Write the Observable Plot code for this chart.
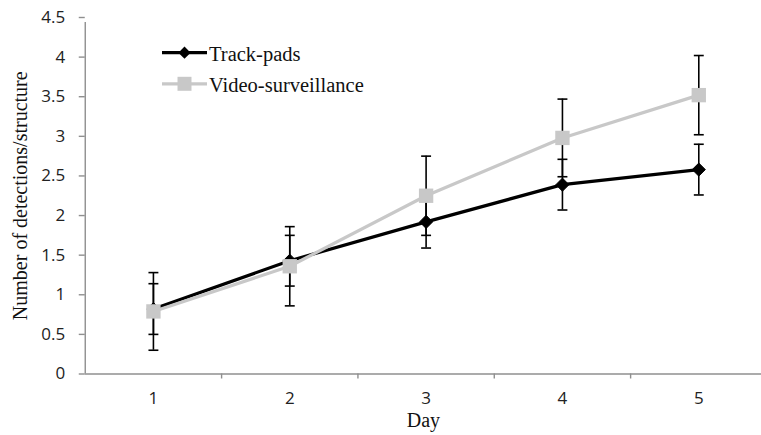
<!DOCTYPE html>
<html>
<head>
<meta charset="utf-8">
<script src="https://cdn.jsdelivr.net/npm/d3@7"></script>
<script src="https://cdn.jsdelivr.net/npm/@observablehq/plot@0.6"></script>
<style>
  html, body { margin: 0; padding: 0; background: #fff; }
  #wrap { position: relative; width: 761px; height: 435px; }
  #legend { position: absolute; left: 0; top: 0; pointer-events: none; }
</style>
</head>
<body>
<div id="wrap"></div>
<script>
// ---- data ----
const days = [1, 2, 3, 4, 5];
const trackPads = [0.82, 1.43, 1.92, 2.39, 2.58];
const trackPadsErr = [0.32, 0.32, 0.33, 0.32, 0.32];
const video = [0.79, 1.36, 2.25, 2.98, 3.52];
const videoErr = [0.49, 0.50, 0.50, 0.49, 0.50];
const seriesNames = ["Track-pads", "Video-surveillance"];
const yTicks = [0, 0.5, 1, 1.5, 2, 2.5, 3, 3.5, 4, 4.5];
const yTickLabels = ["0", "0.5", "1", "1.5", "2", "2.5", "3", "3.5", "4", "4.5"];
const xTickLabels = ["1", "2", "3", "4", "5"];
const xLabel = "Day";
const yLabel = "Number of detections/structure";

const tp = days.map((d, i) => ({day: d, v: trackPads[i], lo: trackPads[i] - trackPadsErr[i], hi: trackPads[i] + trackPadsErr[i]}));
const vs = days.map((d, i) => ({day: d, v: video[i], lo: video[i] - videoErr[i], hi: video[i] + videoErr[i]}));

const black = "#000000";
const grey = "#c8c8c8";
const axisGrey = "#8f8f8f";
const serif = "'Liberation Serif', 'Times New Roman', serif";
const sans = "'Open Sans', 'Liberation Sans', sans-serif";

// horizontal cap symbol for error bars
const capSymbol = {
  draw(context, size) {
    const w = Math.sqrt(size) / 2;
    context.moveTo(-w, 0);
    context.lineTo(w, 0);
  }
};

function errorMarks(data) {
  return [
    Plot.ruleX(data, {x: "day", y1: "lo", y2: "hi", stroke: black, strokeWidth: 1.6}),
    Plot.dot(data, {x: "day", y: "lo", symbol: capSymbol, r: 5.6, stroke: black, strokeWidth: 1.6, fill: "none"}),
    Plot.dot(data, {x: "day", y: "hi", symbol: capSymbol, r: 5.6, stroke: black, strokeWidth: 1.6, fill: "none"})
  ];
}

const chart = Plot.plot({
  width: 761,
  height: 435,
  marginLeft: 84.75,
  marginRight: 0,
  marginTop: 17,
  marginBottom: 61.5,
  style: {fontFamily: sans, fontSize: "17px", background: "#fff", overflow: "visible"},
  x: {type: "linear", domain: [0.5, 5.46], axis: null},
  y: {domain: [0, 4.5], axis: null},
  marks: [
    // axes
    Plot.axisY(yTicks, {label: null, tickSize: 6, tickPadding: 14, stroke: axisGrey, strokeWidth: 1.4, fill: "#222", tickFormat: (d, i) => yTickLabels[i]}),
    Plot.axisX([1.5, 2.5, 3.5, 4.5], {label: null, tickSize: 5, stroke: axisGrey, strokeWidth: 1.4, tickFormat: () => ""}),
    Plot.axisX(days, {label: null, tickSize: 0, tickPadding: 18, fill: "#222", tickFormat: (d, i) => xTickLabels[i]}),
    Plot.ruleX([0.5], {y1: 0, y2: 4.5, stroke: axisGrey, strokeWidth: 1.4, insetBottom: -5}),
    Plot.ruleY([0], {stroke: axisGrey, strokeWidth: 1.6}),
    // axis titles
    Plot.text([yLabel], {frameAnchor: "left", textAnchor: "middle", dx: -65, rotate: -90, text: d => d, fontSize: 20, fontFamily: serif, fill: "#111"}),
    Plot.text([xLabel], {frameAnchor: "bottom", dy: 53, text: d => d, fontSize: 20, fontFamily: serif, fill: "#111"}),
    // Track-pads series
    Plot.line(tp, {x: "day", y: "v", stroke: black, strokeWidth: 3.2}),
    ...errorMarks(tp),
    Plot.dot(tp, {x: "day", y: "v", symbol: "diamond2", r: 5.9, fill: black, stroke: black, strokeWidth: 1}),
    // Video-surveillance series
    Plot.line(vs, {x: "day", y: "v", stroke: grey, strokeWidth: 3.2}),
    ...errorMarks(vs),
    Plot.dot(vs, {x: "day", y: "v", symbol: "square", r: 8.1, fill: grey, stroke: "none"})
  ]
});

const wrap = document.getElementById("wrap");
wrap.appendChild(chart);

// legend overlay
const legend = d3.select(wrap).append("svg")
  .attr("id", "legend").attr("width", 761).attr("height", 435);
const entries = [
  {name: seriesNames[0], color: black, sym: d3.symbolDiamond2, size: 95, y: 52.7},
  {name: seriesNames[1], color: grey, sym: d3.symbolSquare, size: 196, y: 83.8}
];
for (const e of entries) {
  const g = legend.append("g");
  g.append("line").attr("x1", 162).attr("x2", 207).attr("y1", e.y).attr("y2", e.y)
    .attr("stroke", e.color).attr("stroke-width", 3.2);
  g.append("path").attr("d", d3.symbol(e.sym, e.size)()).attr("transform", `translate(184.5,${e.y})`)
    .attr("fill", e.color);
  g.append("text").attr("x", 209).attr("y", e.y + 8.3).text(e.name)
    .attr("font-family", serif).attr("font-size", 20.5).attr("fill", "#111");
}
</script>
</body>
</html>
